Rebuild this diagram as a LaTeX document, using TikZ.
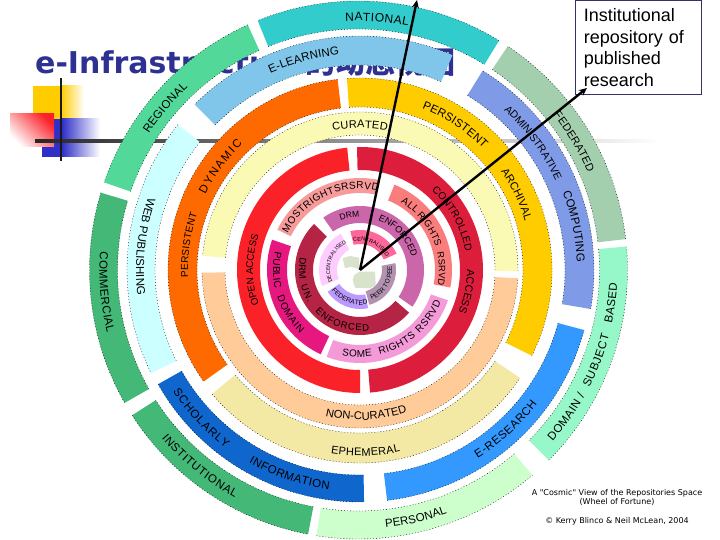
\documentclass[tikz,border=0pt]{standalone}
\usepackage{fontspec}
\setmainfont{Liberation Sans}
\newfontfamily\titlefont{DejaVu Sans}
\newfontfamily\capfont{DejaVu Sans}
\newfontfamily\cjkt{Noto Sans CJK SC}
\usetikzlibrary{decorations.text,arrows.meta}
\definecolor{cNat}{HTML}{33CCCC}\definecolor{cReg}{HTML}{52D899}\definecolor{cCom}{HTML}{43B877}
\definecolor{cPer}{HTML}{CCFFCC}\definecolor{cDom}{HTML}{96F7C8}\definecolor{cFed}{HTML}{A3CFAE}
\definecolor{cLrn}{HTML}{7FC6EA}\definecolor{cAdm}{HTML}{7F9AE6}\definecolor{cRes}{HTML}{3399FF}
\definecolor{cInf}{HTML}{0F66CC}\definecolor{cWeb}{HTML}{CCFFFF}\definecolor{cOra}{HTML}{FF6A00}
\definecolor{cYel}{HTML}{FFCC00}\definecolor{cCur}{HTML}{FAFAB4}\definecolor{cNon}{HTML}{FFCC99}
\definecolor{cEph}{HTML}{F3E8A4}\definecolor{cRed}{HTML}{FB2128}\definecolor{cDrd}{HTML}{DC1E3C}
\definecolor{cMos}{HTML}{F79A9A}\definecolor{cAll}{HTML}{FA7D7D}\definecolor{cSom}{HTML}{F49AD8}
\definecolor{cPub}{HTML}{E6187F}\definecolor{cDen}{HTML}{CC66AA}\definecolor{cDun}{HTML}{B52444}
\definecolor{cCen}{HTML}{FF6699}\definecolor{cPee}{HTML}{B292B0}\definecolor{cFdi}{HTML}{BB99FF}
\definecolor{cDec}{HTML}{FFCCFF}\definecolor{cGre}{HTML}{D9E2CB}\definecolor{cNavy}{HTML}{2E3192}
\definecolor{cBox}{HTML}{333366}\definecolor{cBlu}{HTML}{3030C8}
\tikzset{ringdots/.style={draw=black,line width=0.35pt,dash pattern=on 1pt off 2pt}}
\newcommand{\plainseg}[5]{\fill[#1] (#4:#3) arc (#4:#5:#3) -- (#5:#2) arc (#5:#4:#2) -- cycle;}
\newcommand{\ringseg}[5]{\plainseg{#1}{#2}{#3}{#4}{#5}
  \draw[ringdots] (#4:#3) arc (#4:#5:#3);\draw[ringdots] (#5:#2) arc (#5:#4:#2);}
\newcommand{\ringlab}[5]{\path[decorate,decoration={text along path,text align={fit to path},
  text={|\fontsize{#1}{#1}\selectfont|#5}}] (#3:#2) arc (#3:#4:#2);}
\begin{document}
\begin{tikzpicture}[x=1pt,y=1pt]
\useasboundingbox (0,0) rectangle (720,540);
% slide decoration
\fill[cYel] (33,454) rectangle (61,421);
\shade[left color=cYel,right color=white] (61,454) rectangle (84,421);
\fill[cBlu] (42,421) rectangle (62,383);
\shade[left color=cBlu,right color=white] (62,421) rectangle (100,383);
\shade[top color=cRed,bottom color=white,shading angle=-45] (10,426) rectangle (54,393);
\shade[left color=black!85,right color=white] (35,397.6) rectangle (660,400.2);
\fill[black!90] (59.8,379) rectangle (62.4,462);
% title
\node[anchor=base west,inner sep=0pt,text=cNavy] (title) at (35,466)
  {\fontsize{30}{30}\selectfont\titlefont\bfseries e-Infrastructure\cjkt\bfseries 的动态视图};
\begin{scope}[shift={(358.5,270)}]
% outer ring
\ringseg{cNat}{241}{269}{58.5}{112}
\ringseg{cReg}{241}{269}{114.3}{161}
\ringseg{cCom}{241}{269}{163.3}{209.6}
\ringseg{cCom}{241}{269}{212.7}{259.2}
\ringseg{cPer}{241}{269}{261}{310.3}
\ringseg{cDom}{241}{269}{315}{365}
\ringseg{cFed}{241}{269}{6.6}{56.3}
\ringlab{12}{249}{93}{78.5}{NATIONAL}
\ringlab{11.5}{250}{147}{133}{REGIONAL}
\ringlab{11.5}{259}{176}{194}{COMMERCIAL}
\ringlab{11.5}{259}{220.5}{241.5}{INSTITUTIONAL}
\ringlab{11.5}{259}{276}{290}{PERSONAL}
\ringlab{11}{249}{38.5}{23}{FEDERATED}
\ringlab{11.5}{259}{318.5}{331}{DOMAIN /}
\ringlab{11.5}{259}{333}{345.5}{SUBJECT}
\ringlab{11.5}{259}{348}{357}{BASED}
\end{scope}
\begin{scope}[shift={(360,270)}]
% second ring
\ringseg{cLrn}{205}{234}{66.7}{135}
\ringseg{cAdm}{205}{234}{-9.6}{58.4}
\ringseg{cRes}{205}{232}{276.7}{345}
\ringseg{cInf}{205}{232}{209.5}{271}
\ringseg{cWeb}{205}{233}{141.4}{206.3}
% third ring
\ringseg{cOra}{163}{192}{96.7}{215.5}
\ringseg{cYel}{163}{192}{-26.5}{93.9}
\ringseg{cEph}{163}{193}{220}{326}
% fourth ring
\ringseg{cCur}{135}{158}{-0.4}{174.8}
\ringseg{cNon}{135}{158}{181}{357}
% red ring
\plainseg{cRed}{100}{123}{96}{270}
\plainseg{cDrd}{100}{123}{-85.3}{91.4}
% rights ring
\plainseg{cMos}{77}{92}{78.6}{154}
\plainseg{cAll}{75}{92}{-11}{68}
\plainseg{cSom}{75}{93}{249}{341}
\plainseg{cPub}{73}{93}{161}{245}
% DRM ring
\plainseg{cDen}{47}{64}{-35}{125}
\plainseg{cDun}{47}{65}{135}{319}
% inner ring
\plainseg{cCen}{26}{40}{24}{104}
\plainseg{cPee}{22}{36}{-75}{11}
\plainseg{cFdi}{25}{39}{214}{282}
\plainseg{cDec}{23}{41}{118}{203}
\fill[cGre] (-17.3,11.7) -- (-10,14) -- (-1,12.3) -- (-1,.7) -- (-8.3,3.3) -- (-15,1.7) -- cycle;
\fill[cGre] (-.7,-1.7) -- (15,-1.7) -- (15.7,-15) -- (10,-18.3) -- (-5,-17.7) -- (-7.3,-10) -- (-5.7,-5) -- cycle;
% labels
\ringlab{11.5}{216}{114.5}{95.5}{E-LEARNING}
\ringlab{11}{142}{101}{79}{CURATED}
\ringlab{11.5}{172}{154}{133}{DYNAMIC}
\ringlab{10}{172}{182.5}{161}{PERSISTENT}
\ringlab{9.8}{107}{199}{161}{OPEN ACCESS}
\ringlab{11.5}{224}{161}{186.5}{WEB PUBLISHING}
\ringlab{11.5}{223}{213}{233}{SCHOLARLY}
\ringlab{11.5}{222}{240}{262}{INFORMATION}
\ringlab{11.5}{222}{302}{323}{E-RESEARCH}
\ringlab{11.2}{150}{256.7}{288}{NON-CURATED}
\ringlab{11}{186}{261}{282.5}{EPHEMERAL}
\ringlab{11.5}{173}{69}{44.5}{PERSISTENT}
\ringlab{11}{172}{35}{16.5}{ARCHIVAL}
\ringlab{10.5}{215}{48}{24.5}{ADMINISTRATIVE}
\ringlab{11.5}{217}{21}{2}{COMPUTING}
\ringlab{10.2}{107}{48}{10}{CONTROLLED}
\ringlab{10.5}{107}{0}{-22}{ACCESS}
\ringlab{10}{81}{153}{77}{MOSTRIGHTSRSRVD}
\ringlab{10}{79}{59}{45.5}{ALL}
\ringlab{9.5}{79}{44}{17}{RIGHTS}
\ringlab{9.2}{79}{12.6}{-11}{RSRVD}
\ringlab{10}{87}{258}{278}{SOME}
\ringlab{10}{87}{283}{310}{RIGHTS}
\ringlab{10}{87}{313}{338.5}{RSRVD}
\ringlab{10}{87}{168}{192.5}{PUBLIC}
\ringlab{10}{87}{198}{226.6}{DOMAIN}
\ringlab{9.5}{61}{168}{189}{DRM}
\ringlab{9.5}{61}{195}{212}{UN.}
\ringlab{9.5}{61}{222.7}{279}{ENFORCED}
\ringlab{8.5}{53}{111.5}{90.7}{DRM}
\ringlab{9.2}{53}{70}{14}{ENFORCED}
\ringlab{5.6}{29}{103}{27}{CENTRALISED}
\ringlab{6.4}{32}{-69}{10}{PEER TO PEER}
\ringlab{6.6}{35}{216}{283}{FEDERATED}
\ringlab{5.4}{30}{203}{118}{DECENTRALISED}
\coordinate (hub) at (0,0);
\end{scope}
% box and caption
\node[draw=cBox,line width=0.7pt,fill=white,anchor=north west,minimum width=125.7pt,minimum height=94pt,
  inner xsep=8.5pt,inner ysep=3pt,text width=108.7pt,align=left,font=\fontsize{18}{21.7}\selectfont] (repo)
  at (575,539.7) {Institutional\\repository of\\published\\research};
\node[inner sep=0pt,align=center,font=\capfont\fontsize{8}{9.6}\selectfont] (cap1) at (617,42.5)
  {A "Cosmic" View of the Repositories Space\\(Wheel of Fortune)};
\node[inner sep=0pt,font=\capfont\fontsize{8}{9.6}\selectfont] (cap2) at (617,19) {© Kerry Blinco \& Neil McLean, 2004};
% arrows
\coordinate (tipa) at (417,540);
\coordinate (tipb) at (587,452);
\draw[line width=2.4pt,-{Stealth[length=8pt,width=7pt]}] (hub) -- (tipa);
\draw[line width=2.4pt,-{Stealth[length=8pt,width=7pt]}] (hub) -- (tipb);
\end{tikzpicture}
\end{document}
